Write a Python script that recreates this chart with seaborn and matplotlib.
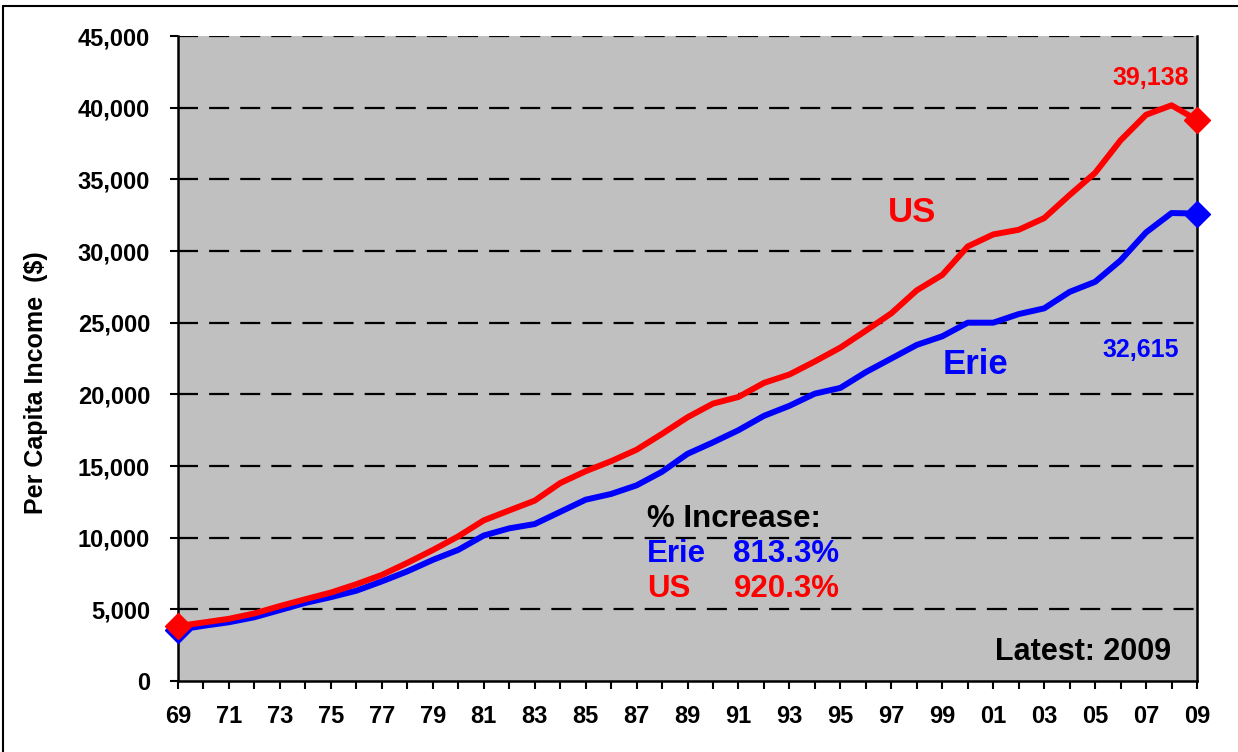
import numpy as np
import pandas as pd
import seaborn as sns
import matplotlib
matplotlib.use("Agg")
import matplotlib.pyplot as plt
from matplotlib.ticker import FuncFormatter, MultipleLocator, FixedLocator
from matplotlib.lines import Line2D

# Per capita personal income, 1969-2009 ($)
years = list(range(1969, 2010))
erie = [3571, 3850, 4100, 4450, 4950, 5450, 5850, 6300, 6950, 7650,
        8450, 9150, 10150, 10650, 10950, 11800, 12650, 13050, 13650, 14600,
        15850, 16650, 17500, 18500, 19200, 20050, 20450, 21550, 22500, 23450,
        24050, 25000, 25000, 25600, 26000, 27150, 27850, 29350, 31300, 32650,
        32615]
us = [3836, 4084, 4340, 4717, 5230, 5708, 6172, 6754, 7402, 8243,
      9138, 10091, 11209, 11901, 12583, 13807, 14637, 15338, 16137, 17244,
      18402, 19354, 19818, 20799, 21385, 22297, 23262, 24442, 25654, 27258,
      28333, 30319, 31157, 31481, 32295, 33909, 35452, 37725, 39506, 40166,
      39138]
series_names = ["Erie", "US"]
pct_increase = ["813.3%", "920.3%"]
latest_label = "Latest: 2009"

BLUE = "#0000FF"
RED = "#FF0000"
GREY = "#C0C0C0"

sns.set_theme(style="white")
plt.rcParams["font.family"] = ["Liberation Sans", "DejaVu Sans"]
plt.rcParams["font.weight"] = "bold"

df = pd.DataFrame({"year": years * 2,
                   "income": erie + us,
                   "area": ["Erie"] * len(years) + ["US"] * len(years)})

fig = plt.figure(figsize=(12.38, 7.52), dpi=100)
ax = fig.add_axes([0.1438, 0.0944, 0.9669 - 0.1438, 0.9521 - 0.0944])
ax.set_facecolor(GREY)

# horizontal dashed gridlines
for v in range(5000, 45001, 5000):
    ax.axhline(v, color="black", lw=1.6, dashes=(9, 5), zorder=1)

sns.lineplot(data=df, x="year", y="income", hue="area",
             palette={"Erie": BLUE, "US": RED}, linewidth=4.3,
             legend=False, ax=ax, zorder=3)

# end-point diamonds
for vals, col in [(erie, BLUE), (us, RED)]:
    ax.plot([years[0], years[-1]], [vals[0], vals[-1]], "D", color=col,
            markersize=13, clip_on=False, zorder=4)

ax.set_xlim(years[0], years[-1])
ax.set_ylim(0, 45000)

ax.xaxis.set_major_locator(FixedLocator(years[::2]))
ax.xaxis.set_minor_locator(FixedLocator(years[1::2]))
ax.xaxis.set_major_formatter(FuncFormatter(lambda v, p: f"{int(round(v)) % 100:02d}"))
ax.yaxis.set_major_locator(MultipleLocator(5000))
ax.yaxis.set_major_formatter(FuncFormatter(lambda v, p: f"{int(v):,}"))
ax.tick_params(axis="both", which="both", direction="out", length=6,
               width=1.5, color="black", labelcolor="black")
ax.tick_params(axis="x", which="both", bottom=True, pad=11, labelsize=17)
ax.tick_params(axis="y", left=True, pad=14, labelsize=17)
for lab in ax.get_xticklabels() + ax.get_yticklabels():
    lab.set_fontweight("bold")

for side in ["left", "bottom", "right"]:
    ax.spines[side].set_visible(True)
    ax.spines[side].set_color("black")
    ax.spines[side].set_linewidth(1.8)
ax.spines["top"].set_visible(False)

ax.set_xlabel("")
ax.set_ylabel("Per Capita Income  ($)", fontsize=18, fontweight="bold",
              color="black")
ax.yaxis.set_label_coords(-0.128, 0.463)

# series labels
ax.text(1997.8, 32700, "US", color=RED, fontsize=25, fontweight="bold",
        ha="center", va="center")
ax.text(2000.3, 22100, "Erie", color=BLUE, fontsize=25, fontweight="bold",
        ha="center", va="center")

# latest values
ax.text(2007.2, 42100, f"{us[-1]:,}", color=RED, fontsize=18,
        fontweight="bold", ha="center", va="center")
ax.text(2006.8, 23100, f"{erie[-1]:,}", color=BLUE, fontsize=18,
        fontweight="bold", ha="center", va="center")

# growth summary
fs = 22.5
ax.text(1987.4, 11300, "% Increase:", color="black", fontsize=fs,
        fontweight="bold", ha="left", va="center")
ax.text(1987.4, 8850, series_names[0], color=BLUE, fontsize=fs,
        fontweight="bold", ha="left", va="center")
ax.text(1990.8, 8850, pct_increase[0], color=BLUE, fontsize=fs,
        fontweight="bold", ha="left", va="center")
ax.text(1987.4, 6400, series_names[1], color=RED, fontsize=fs,
        fontweight="bold", ha="left", va="center")
ax.text(1990.8, 6400, pct_increase[1], color=RED, fontsize=fs,
        fontweight="bold", ha="left", va="center")

ax.text(2008.0, 2000, latest_label, color="black", fontsize=22,
        fontweight="bold", ha="right", va="center")

# outer frame
W, H = 1238, 752
fig.add_artist(Line2D([3 / W, 3 / W], [0, 1 - 6 / H], transform=fig.transFigure,
                      color="black", lw=1.5))
fig.add_artist(Line2D([3 / W, 1], [1 - 6 / H, 1 - 6 / H], transform=fig.transFigure,
                      color="black", lw=1.5))

fig.savefig("out.png", dpi=100)
